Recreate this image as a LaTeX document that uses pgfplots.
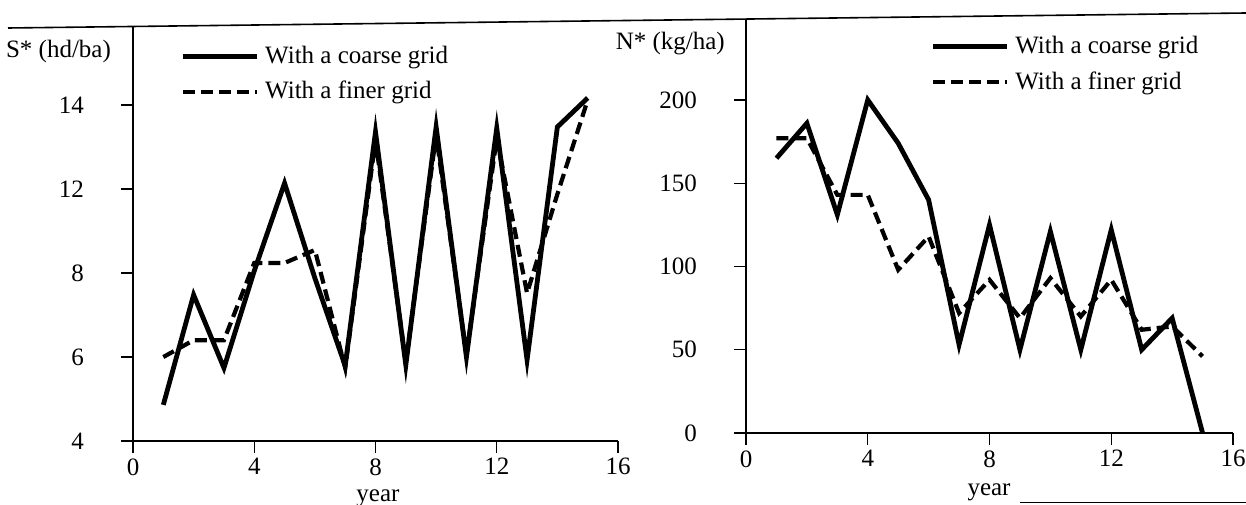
\documentclass[border=0pt]{standalone}
\usepackage{fontspec}
\setmainfont{Liberation Serif}
\usepackage{pgfplots}
\pgfplotsset{compat=1.18}

\newcommand{\chartfont}{\fontsize{12.5}{14}\selectfont}
\pgfplotsset{
  myax/.style={
    scale only axis,
    axis x line*=bottom, axis y line*=left,
    axis line style={line width=0.7pt,-},
    tick align=outside,
    major tick length=6pt,
    tick style={line width=0.7pt, black},
    xmin=0, xmax=16, xtick={0,4,8,12,16},
    /pgf/number format/assume math mode=true,
    tick label style={font=\chartfont},
    xticklabel style={yshift=-1.5pt, inner ysep=1pt},
    yticklabel style={xshift=-15pt},
    legend style={draw=none, fill=none, font=\chartfont,
      row sep=7.5pt, inner sep=0pt, cells={anchor=west},
      nodes={inner xsep=3pt, inner ysep=0pt}},
    legend image code/.code={\draw[#1] (0pt,0pt) -- (37pt,0pt);},
    clip=false,
  },
  coarse/.style={black, line width=2.4pt, line join=miter},
  finer/.style={black, line width=2.1pt, line join=miter, dash pattern=on 6pt off 3pt},
}

\begin{document}
\begin{tikzpicture}
\useasboundingbox (0,0) rectangle (623pt,252pt);
% scan frame lines
\draw[line width=0.8pt] (4pt,238pt) -- (623pt,245.5pt);
\draw[line width=0.8pt] (510pt,0.8pt) -- (623pt,0.8pt);

% ---------- left panel ----------
\begin{axis}[myax,
  at={(66.5pt,31.5pt)}, anchor=origin,
  width=242.5pt, height=207pt,
  ymin=4, ymax=13.86,
  ytick={4,6,8,10,12}, yticklabels={4,6,8,12,14},
  xlabel={year},
  every axis x label/.style={at={(axis description cs:0.505,-0.116)}, anchor=north, inner sep=0pt, font=\chartfont},
  ylabel={S* (hd/ba)},
  every axis y label/.style={at={(axis description cs:-0.031,0.94)}, anchor=east, font=\chartfont},
  legend style={at={(axis description cs:0.097,0.955)}, anchor=north west},
]
\addplot[coarse] coordinates {
(1,4.86) (2,7.48) (3,5.74) (4,8.05) (5,10.14) (6,7.88) (7,5.79) (8,11.36)
(9,5.81) (10,11.48) (11,6.0) (12,11.45) (13,5.93) (14,11.48) (15,12.17)};
\addlegendentry{With a coarse grid}
\addplot[finer] coordinates {
(1,6.0) (2,6.4) (3,6.4) (4,8.24) (5,8.24) (6,8.55) (7,5.74) (8,11.17)
(9,5.88) (10,11.29) (11,6.05) (12,11.21) (13,7.52) (14,9.88) (15,12.12)};
\addlegendentry{With a finer grid}
\end{axis}

% ---------- right panel ----------
\begin{axis}[myax,
  at={(373pt,35.5pt)}, anchor=origin,
  width=243.5pt, height=206.5pt,
  ymin=0, ymax=248,
  ytick={0,50,100,150,200},
  xlabel={year},
  every axis x label/.style={at={(axis description cs:0.499,-0.122)}, anchor=north, inner sep=0pt, font=\chartfont},
  ylabel={N* (kg/ha)},
  every axis y label/.style={at={(axis description cs:-0.029,0.944)}, anchor=east, font=\chartfont},
  legend style={at={(axis description cs:0.378,0.962)}, anchor=north west},
]
\addplot[coarse] coordinates {
(1,165) (2,186) (3,131) (4,200) (5,174) (6,140) (7,53) (8,125)
(9,50) (10,121) (11,50) (12,122) (13,50) (14,69) (15,0)};
\addlegendentry{With a coarse grid}
\addplot[finer] coordinates {
(1,177) (2,177) (3,143) (4,143) (5,98) (6,118) (7,72) (8,92)
(9,69) (10,93) (11,70) (12,92) (13,62) (14,64) (15,46)};
\addlegendentry{With a finer grid}
\end{axis}
\end{tikzpicture}
\end{document}
